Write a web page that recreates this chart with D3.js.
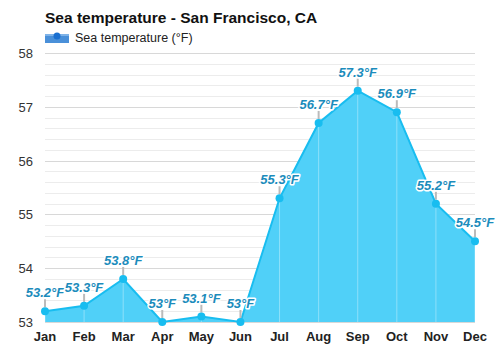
<!DOCTYPE html>
<html><head><meta charset="utf-8">
<script src="https://cdn.jsdelivr.net/npm/d3@7"></script>
<style>body{margin:0;background:#fff;font-family:Arial,"Liberation Sans",sans-serif}</style>
</head><body><svg id="c" width="500" height="350"></svg>
<script>
const months = ["Jan","Feb","Mar","Apr","May","Jun","Jul","Aug","Sep","Oct","Nov","Dec"];
const temps = [53.2,53.3,53.8,53.0,53.1,53.0,55.3,56.7,57.3,56.9,55.2,54.5];
const labels = ["53.2°F","53.3°F","53.8°F","53°F","53.1°F","53°F","55.3°F","56.7°F","57.3°F","56.9°F","55.2°F","54.5°F"];
const yTicks = [53,54,55,56,57,58];

const svg = d3.select("#c");
const x = d3.scalePoint().domain(months).range([45,475]);
const y = d3.scaleLinear().domain([53,58]).range([322,53]);

const minor = d3.range(53,58.001,0.2);
svg.append("g").selectAll("line").data(minor).join("line")
 .attr("x1",45).attr("x2",475).attr("y1",d=>Math.round(y(d))+0.5).attr("y2",d=>Math.round(y(d))+0.5)
 .attr("stroke","#ececec").attr("stroke-width",1);
svg.append("g").selectAll("line").data(yTicks).join("line")
 .attr("x1",45).attr("x2",475).attr("y1",d=>Math.round(y(d))+0.5).attr("y2",d=>Math.round(y(d))+0.5)
 .attr("stroke","#d8d8d8").attr("stroke-width",1);

svg.append("g").selectAll("text").data(yTicks).join("text")
 .attr("x",33).attr("y",d=>y(d)+5).attr("text-anchor","end")
 .attr("font-size",13).attr("fill","#333").text(d=>d);

const data = months.map((m,i)=>({m,v:temps[i],l:labels[i]}));
const area = d3.area().x(d=>x(d.m)).y0(y(53)).y1(d=>y(d.v));
const line = d3.line().x(d=>x(d.m)).y(d=>y(d.v));
svg.append("path").datum(data).attr("d",area).attr("fill","#50d0f8");
svg.append("g").selectAll("line").data(data).join("line")
 .attr("x1",d=>x(d.m)).attr("x2",d=>x(d.m)).attr("y1",y(53)).attr("y2",d=>y(d.v))
 .attr("stroke","#ffffff").attr("stroke-opacity",0.35).attr("stroke-width",1);
svg.append("path").datum(data).attr("d",line).attr("fill","none").attr("stroke","#18bdf0").attr("stroke-width",2);

svg.append("g").selectAll("line").data(data).join("line")
 .attr("x1",d=>x(d.m)).attr("x2",d=>x(d.m)).attr("y1",d=>y(d.v)-4).attr("y2",d=>y(d.v)-12)
 .attr("stroke","#bbbbbb").attr("stroke-width",2);
svg.append("g").selectAll("circle").data(data).join("circle")
 .attr("cx",d=>x(d.m)).attr("cy",d=>y(d.v)).attr("r",4).attr("fill","#18bdf0");

svg.append("g").selectAll("text").data(data).join("text")
 .attr("x",d=>x(d.m)).attr("y",d=>y(d.v)-14).attr("text-anchor","middle")
 .attr("font-size",13).attr("font-weight","bold").attr("font-style","italic")
 .attr("fill","#1c8cbc").attr("stroke","#fff").attr("stroke-width",3).attr("paint-order","stroke")
 .attr("stroke-linejoin","round").text(d=>d.l);

svg.append("g").selectAll("text").data(months).join("text")
 .attr("x",d=>x(d)).attr("y",341).attr("text-anchor","middle")
 .attr("font-size",13).attr("font-weight","bold").attr("fill","#222").text(d=>d);

svg.append("text").attr("x",45).attr("y",23).attr("font-size",15.5).attr("font-weight","bold").attr("fill","#111")
 .text("Sea temperature - San Francisco, CA");
svg.append("rect").attr("x",45).attr("y",34).attr("width",24).attr("height",9).attr("fill","#4a90d9");
svg.append("rect").attr("x",45).attr("y",34).attr("width",24).attr("height",2).attr("fill","#7fb3e8");
svg.append("circle").attr("cx",57).attr("cy",36).attr("r",3.5).attr("fill","#1a6fd0");
svg.append("text").attr("x",75).attr("y",42).attr("font-size",12.5).attr("fill","#222").text("Sea temperature (°F)");
</script></body></html>
